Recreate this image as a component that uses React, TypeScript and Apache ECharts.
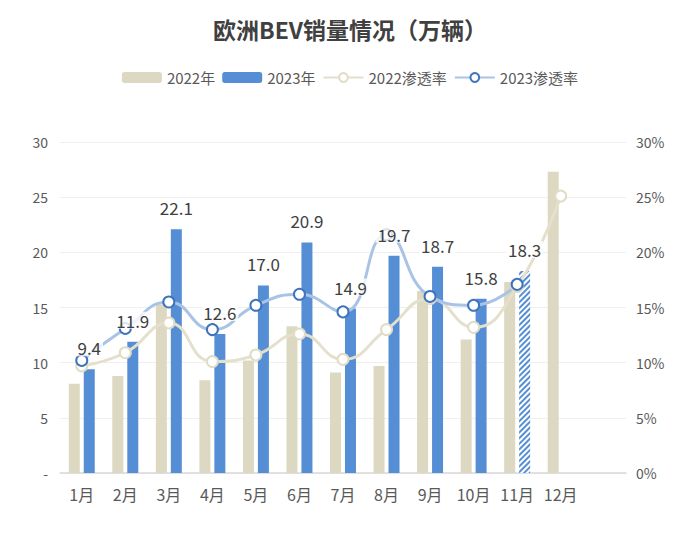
import React, { useEffect, useRef } from "react";
import * as echarts from "echarts";

const categories = ["1月", "2月", "3月", "4月", "5月", "6月", "7月", "8月", "9月", "10月", "11月", "12月", ""];
const sales2022 = [8.1, 8.8, 15.3, 8.4, 10.2, 13.3, 9.1, 9.7, 16.5, 12.1, 17.3, 27.3];
const sales2023 = [9.4, 11.9, 22.1, 12.6, 17.0, 20.9, 14.9, 19.7, 18.7, 15.8, 18.3];
const rate2022 = [9.7, 10.9, 13.6, 10.1, 10.7, 12.6, 10.3, 13.0, 15.8, 13.2, 16.9, 25.1];
const rate2023 = [10.2, 13.1, 15.5, 13.0, 15.2, 16.2, 14.6, 21.6, 16.0, 15.2, 17.1];
const leftTicks = [0, 5, 10, 15, 20, 25, 30];
const hatchedIndex = 10;

const FONT = "'Noto Sans CJK SC', 'Noto Sans', sans-serif";
const BEIGE = "#ddd8c1";
const BLUE = "#558ed5";

export default function App() {
  const ref = useRef<HTMLDivElement>(null);
  useEffect(() => {
    document.body.style.margin = "0";
    const chart = echarts.init(ref.current!, null, { renderer: "svg" });
    const bar2023Data = sales2023.map((v, i) =>
      i === hatchedIndex
        ? {
            value: v,
            itemStyle: {
              color: "#ffffff",
              decal: {
                symbol: "rect",
                symbolSize: 1,
                color: BLUE,
                dashArrayX: [1, 0],
                dashArrayY: [1.5, 1.5],
                rotation: -Math.PI / 4,
              },
            },
          }
        : v
    );
    chart.setOption({
      animation: false,
      textStyle: { fontFamily: FONT },
      title: {
        text: "欧洲BEV销量情况（万辆）",
        left: "center",
        top: 12,
        textStyle: { fontSize: 23, fontWeight: "bold", color: "#404040", fontFamily: FONT },
      },
      legend: {
        top: 65,
        left: "center",
        itemWidth: 40,
        itemHeight: 11,
        itemGap: 7,
        textStyle: { fontSize: 15, color: "#595959", fontFamily: FONT },
        data: ["2022年", "2023年", "2022渗透率", "2023渗透率"],
      },
      grid: { left: 60, right: 74, top: 142, bottom: 75 },
      xAxis: [
        {
          type: "category",
          data: categories,
          axisLine: { lineStyle: { color: "#d9d9d9", width: 1.5 } },
          axisTick: { show: false },
          axisLabel: { fontSize: 16, color: "#595959", margin: 13, interval: 0 },
        },
        { type: "category", data: categories, show: false },
      ],
      yAxis: [
        {
          type: "value",
          min: leftTicks[0],
          max: leftTicks[leftTicks.length - 1],
          interval: 5,
          axisLine: { show: false },
          axisTick: { show: false },
          axisLabel: {
            fontSize: 14,
            color: "#595959",
            margin: 12,
            formatter: (v: number) => (v === 0 ? "-" : String(v)),
          },
          splitLine: { lineStyle: { color: "#efefef", width: 1 } },
        },
        {
          type: "value",
          min: 0,
          max: 30,
          interval: 5,
          axisLine: { show: false },
          axisTick: { show: false },
          axisLabel: { fontSize: 14, color: "#595959", margin: 10, formatter: "{value}%" },
          splitLine: { show: false },
        },
      ],
      series: [
        {
          name: "2022年",
          type: "bar",
          data: sales2022,
          barWidth: 11,
          barGap: "36%",
          z: 2,
          itemStyle: { color: BEIGE },
        },
        {
          name: "2023年",
          type: "bar",
          data: bar2023Data,
          barWidth: 11,
          barGap: "36%",
          z: 2,
          itemStyle: { color: BLUE },
        },
        {
          name: "2022渗透率",
          type: "line",
          yAxisIndex: 1,
          data: rate2022,
          smooth: 0.5,
          z: 3,
          symbol: "circle",
          symbolSize: 11,
          lineStyle: { color: "#e4e0cc", width: 3 },
          itemStyle: { color: "#ffffff", borderColor: "#e0dcc6", borderWidth: 2 },
        },
        {
          name: "2023渗透率",
          type: "line",
          yAxisIndex: 1,
          data: rate2023,
          smooth: 0.5,
          z: 3,
          symbol: "circle",
          symbolSize: 11,
          lineStyle: { color: "#a9c3e6", width: 3 },
          itemStyle: { color: "#ffffff", borderColor: "#3f74bd", borderWidth: 2 },
        },
        {
          name: "dummy2022",
          type: "bar",
          xAxisIndex: 1,
          data: sales2022,
          barWidth: 11,
          barGap: "36%",
          z: 5,
          silent: true,
          itemStyle: { color: "rgba(0,0,0,0)" },
        },
        {
          name: "label2023",
          type: "bar",
          xAxisIndex: 1,
          data: sales2023,
          barWidth: 11,
          barGap: "36%",
          z: 5,
          silent: true,
          itemStyle: { color: "rgba(0,0,0,0)" },
          label: {
            show: true,
            position: "top",
            distance: 13,
            fontSize: 17,
            color: "#404040",
            fontFamily: FONT,
            backgroundColor: "rgba(255,255,255,0.8)",
            padding: [0, 2],
            formatter: (p: any) => Number(p.value).toFixed(1),
          },
        },
      ],
    });
    return () => chart.dispose();
  }, []);
  return <div ref={ref} style={{ width: 700, height: 548 }} />;
}
